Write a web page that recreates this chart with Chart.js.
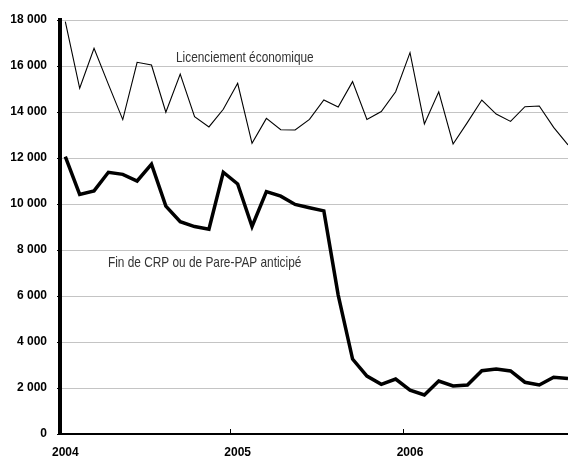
<!DOCTYPE html>
<html>
<head>
<meta charset="utf-8">
<script src="https://cdn.jsdelivr.net/npm/chart.js"></script>
<style>
  html, body { margin: 0; padding: 0; background: #fff; }
  #wrap { width: 568px; height: 459px; position: relative; }
</style>
</head>
<body>
<div id="wrap"><canvas id="myLineChart"></canvas></div>
<script>
// monthly values, Jan 2004 -> Dec 2006
const years = ['2004', '2005', '2006'];
const licenciement = [17930, 15030, 16770, 15200, 13670, 16160, 16040, 13990, 15650, 13800, 13350, 14120,
                      15250, 12640, 13720, 13230, 13220, 13680, 14520, 14220, 15320, 13680, 14020, 14880,
                      16580, 13480, 14880, 12610, 13550, 14520, 13910, 13590, 14230, 14260, 13330, 12570];
const finCrp = [12060, 10420, 10570, 11380, 11290, 11000, 11730, 9910, 9230, 9020, 8900, 11380,
                10870, 9020, 10540, 10340, 9980, 9840, 9700, 6040, 3260, 2520, 2160, 2390,
                1910, 1700, 2300, 2090, 2130, 2750, 2830, 2740, 2250, 2130, 2470, 2410];
const yTicks = [0, 2000, 4000, 6000, 8000, 10000, 12000, 14000, 16000, 18000];
const seriesNames = ['Licenciement économique', 'Fin de CRP ou de Pare-PAP anticipé'];

const FONT = '"Liberation Sans", Arial, sans-serif';

function fmt(v) {
    return String(v).replace(/\B(?=(\d{3})+(?!\d))/g, ' ');
}

// condensed text (no narrow font installed, so squeeze it)
function narrowText(ctx, txt, px, py) {
    ctx.save();
    ctx.translate(px, py);
    ctx.scale(0.79, 1);
    ctx.fillText(txt, 0, 0);
    ctx.restore();
}

// small ticks between December and January, plus the two series labels
const extras = {
    id: 'extras',
    afterDatasetsDraw(chart) {
        const ctx = chart.ctx;
        const x = chart.scales.x, y = chart.scales.y;
        ctx.save();
        ctx.strokeStyle = '#000';
        ctx.lineWidth = 1;
        for (let k = 1; k < years.length; k++) {
            const px = Math.round(x.getPixelForValue(k * 12 - 0.5)) + 0.5;
            ctx.beginPath();
            ctx.moveTo(px, y.bottom);
            ctx.lineTo(px, y.bottom - 5);
            ctx.stroke();
        }
        ctx.fillStyle = '#333';
        ctx.font = '15px ' + FONT;
        ctx.textAlign = 'center';
        ctx.textBaseline = 'middle';
        narrowText(ctx, seriesNames[0], x.getPixelForValue(12.5), y.getPixelForValue(16350));
        narrowText(ctx, seriesNames[1], x.getPixelForValue(9.7), y.getPixelForValue(7430));
        ctx.restore();
    }
};

function renderLineChart() {
    const ctx = document.getElementById('myLineChart')?.getContext('2d');
    if (!ctx) {
        console.error("Line chart canvas not found!");
        return;
    }

    const data = {
        datasets: [{
            label: seriesNames[0],
            data: licenciement.map((v, i) => ({ x: i, y: v })),
            borderColor: '#000',
            borderWidth: 1.1,
            pointRadius: 0,
            tension: 0
        }, {
            label: seriesNames[1],
            data: finCrp.map((v, i) => ({ x: i, y: v })),
            borderColor: '#000',
            borderWidth: 3.5,
            pointRadius: 0,
            tension: 0
        }]
    };

    new Chart(ctx, {
        type: 'line',
        data: data,
        plugins: [extras],
        options: {
            responsive: true,
            maintainAspectRatio: false,
            animation: false,
            layout: { padding: { top: 20, left: 0, right: 0, bottom: 0 } },
            plugins: {
                legend: { display: false },
                tooltip: { enabled: false }
            },
            scales: {
                x: {
                    type: 'linear',
                    min: -0.37,
                    max: 35,
                    afterBuildTicks: (scale) => {
                        scale.ticks = years.map((yr, k) => ({ value: k * 12 }));
                    },
                    afterFit: (scale) => { scale.height = 25; },
                    ticks: {
                        callback: (v) => years[Math.round(v / 12)],
                        color: '#000',
                        padding: 11,
                        maxRotation: 0,
                        autoSkip: false,
                        font: { family: FONT, size: 12, weight: 'bold' }
                    },
                    grid: { display: true, drawOnChartArea: false, drawTicks: false },
                    border: { color: '#000', width: 2 }
                },
                y: {
                    min: 0,
                    max: 18000,
                    afterBuildTicks: (scale) => {
                        scale.ticks = yTicks.map(v => ({ value: v }));
                    },
                    afterFit: (scale) => { scale.width = 60; },
                    ticks: {
                        callback: (v) => fmt(v),
                        color: '#000',
                        padding: 10,
                        font: { family: FONT, size: 12, weight: 'bold' }
                    },
                    grid: { color: '#c4c4c4', lineWidth: 1, tickColor: '#000', tickLength: 3 },
                    border: { color: '#000', width: 4 }
                }
            }
        }
    });
}

window.onload = function() {
    renderLineChart();
};
</script>
</body>
</html>
